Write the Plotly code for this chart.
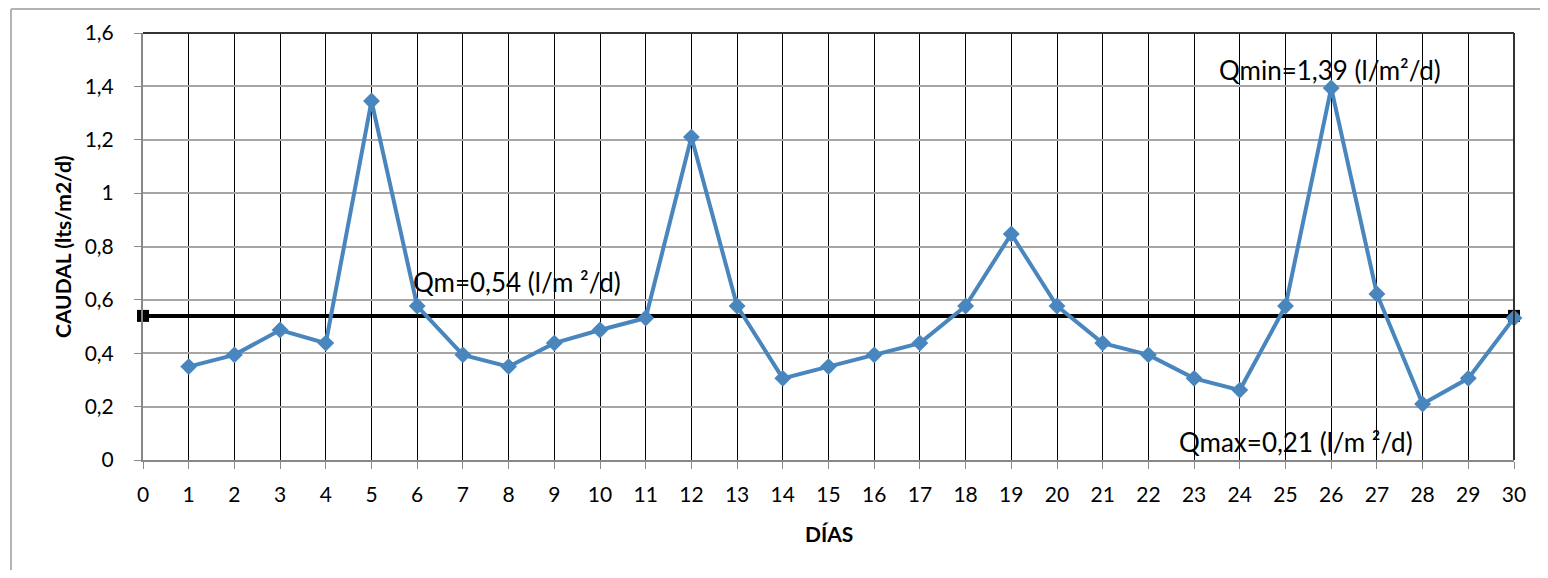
import plotly.graph_objects as go

dias = list(range(1, 31))
caudal = [0.35, 0.394, 0.487, 0.438, 1.345, 0.577, 0.394, 0.35, 0.438, 0.487,
          0.532, 1.21, 0.577, 0.306, 0.35, 0.394, 0.438, 0.577, 0.847, 0.577,
          0.438, 0.394, 0.306, 0.262, 0.577, 1.394, 0.622, 0.21, 0.306, 0.532]
media_x = [0, 30]
media_y = [0.54, 0.54]
x_ticks = list(range(0, 31))
y_ticks = [0, 0.2, 0.4, 0.6, 0.8, 1, 1.2, 1.4, 1.6]
y_labels = ["0", "0,2", "0,4", "0,6", "0,8", "1", "1,2", "1,4", "1,6"]

FONT = "Lato"
OFF = 8  # default page body margin
W, H = 1548 - 2 * OFF, 578 - 2 * OFF
L, T = 143 - OFF, 33 - OFF
R = W - (1514 - OFF)
B = H - (460 - OFF)
pw, ph = W - L - R, H - T - B


def px_x(sx):
    return (sx - OFF - L) / pw


def px_y(sy):
    return (H - B - (sy - OFF)) / ph


fig = go.Figure()
fig.add_trace(go.Scatter(x=media_x, y=media_y, mode="lines+markers",
                         line=dict(color="black", width=4),
                         marker=dict(symbol="square", size=12, color="black"),
                         cliponaxis=False, showlegend=False))
fig.add_trace(go.Scatter(x=dias, y=caudal, mode="lines+markers",
                         line=dict(color="#4a86be", width=4),
                         marker=dict(symbol="diamond", size=13, color="#4a86be"),
                         cliponaxis=False, showlegend=False))

fig.update_layout(
    width=W, height=H,
    margin=dict(l=L, r=R, t=T, b=B),
    plot_bgcolor="white", paper_bgcolor="white",
    font=dict(family=FONT, size=21, color="black"),
    xaxis=dict(range=[0, 30], tickvals=x_ticks, showgrid=True, gridcolor="black",
               gridwidth=1, showline=True, linecolor="#888888", linewidth=2,
               ticks="outside", ticklen=7, tickcolor="#888888", zeroline=False,
               tickfont=dict(size=21), ticklabelstandoff=8),
    yaxis=dict(range=[0, 1.6], tickvals=y_ticks, ticktext=y_labels, showgrid=True,
               gridcolor="#a6a6a6", gridwidth=1.5, showline=True, linecolor="#888888",
               linewidth=2, ticks="outside", ticklen=7, tickcolor="#888888",
               zeroline=False, tickfont=dict(size=21), ticklabelstandoff=16),
)

# plot-area top/right border
fig.add_shape(type="line", xref="paper", yref="paper", x0=0, x1=1, y0=1, y1=1,
              line=dict(color="#333333", width=2))
fig.add_shape(type="line", xref="paper", yref="paper", x0=1, x1=1, y0=0, y1=1,
              line=dict(color="#333333", width=2))
# outer chart border (left and top edges visible in the frame)
fig.add_shape(type="line", xref="paper", yref="paper",
              x0=px_x(11), x1=px_x(11), y0=px_y(578), y1=px_y(9),
              line=dict(color="#b3b3b3", width=2), layer="below")
fig.add_shape(type="line", xref="paper", yref="paper",
              x0=px_x(11), x1=px_x(1548), y0=px_y(9), y1=px_y(9),
              line=dict(color="#b3b3b3", width=2), layer="below")

# axis titles
fig.add_annotation(x=px_x(62), y=px_y(247), xref="paper", yref="paper",
                   text="<b>CAUDAL (lts/m2/d)</b>", textangle=-90, showarrow=False,
                   font=dict(size=21, family=FONT), xanchor="center", yanchor="middle")
fig.add_annotation(x=px_x(829), y=px_y(533), xref="paper", yref="paper",
                   text="<b>DÍAS</b>", showarrow=False,
                   font=dict(size=21, family=FONT), xanchor="center", yanchor="middle")

# labels
fig.add_annotation(x=px_x(517), y=px_y(282), xref="paper", yref="paper",
                   text="Qm=0,54 (l/m ²/d)", showarrow=False,
                   font=dict(size=26, family=FONT), xanchor="center", yanchor="middle")
fig.add_annotation(x=px_x(1330), y=px_y(70), xref="paper", yref="paper",
                   text="Qmin=1,39 (l/m²/d)", showarrow=False,
                   font=dict(size=26, family=FONT), xanchor="center", yanchor="middle")
fig.add_annotation(x=px_x(1296), y=px_y(442), xref="paper", yref="paper",
                   text="Qmax=0,21 (l/m ²/d)", showarrow=False,
                   font=dict(size=26, family=FONT), xanchor="center", yanchor="middle")

fig.write_html("out.html")
